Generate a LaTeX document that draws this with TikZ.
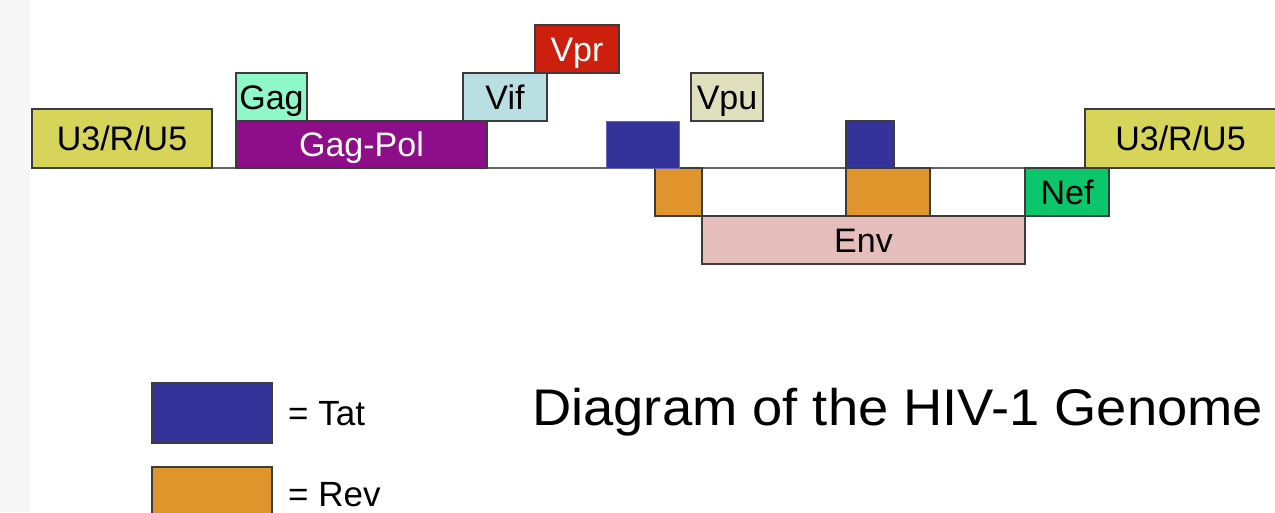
\documentclass[tikz,border=0pt]{standalone}
\usepackage{fontspec}
\setmainfont{Liberation Sans}
\definecolor{edge}{HTML}{3C3C3C}
\definecolor{ltr}{HTML}{D7D45A}
\definecolor{gagc}{HTML}{8FF8C8}
\definecolor{gagpol}{HTML}{8E0E8A}
\definecolor{vifc}{HTML}{BADFE3}
\definecolor{vprc}{HTML}{CC1F0E}
\definecolor{tatc}{HTML}{333399}
\definecolor{vpuc}{HTML}{E0DFBE}
\definecolor{revc}{HTML}{DF952B}
\definecolor{envc}{HTML}{E5BDBB}
\definecolor{nefc}{HTML}{0CC66C}
\definecolor{strip}{HTML}{F7F7F7}
\begin{document}
\begin{tikzpicture}[x=1pt,y=-1pt,
  gene/.style={draw=edge, line width=1.5pt, inner sep=0pt, outer sep=0pt,
    font=\fontsize{34}{40}\selectfont, text height=24pt, text depth=0pt},
  legtext/.style={anchor=west, inner sep=0pt, font=\fontsize{35}{40}\selectfont, text height=24pt, text depth=0pt},
  genomeline/.style={draw=edge!80, line width=1.5pt}]
\clip (0,0) rectangle (1275,512);
\useasboundingbox (0,0) rectangle (1275,512);
\fill[white] (0,0) rectangle (1275,512);
\fill[strip] (0,0) rectangle (30,512);
% genome line
\coordinate (lineL) at (32,168);
\coordinate (lineR) at (1280,168);
\draw[genomeline] (lineL) -- (lineR);
% genes
\node[gene, fill=ltr, minimum width=180pt, minimum height=59pt] (ltrL) at (122,138.5) {U3/R/U5};
\node[gene, fill=gagpol, text=white, minimum width=251pt, minimum height=47pt] (gp) at (361.5,144.5) {Gag-Pol};
\node[gene, fill=gagc, minimum width=71pt, minimum height=48pt] (gag) at (271.5,97) {Gag};
\node[gene, fill=vifc, minimum width=84pt, minimum height=48pt] (vif) at (505,97) {Vif};
\node[gene, fill=vprc, text=white, minimum width=84pt, minimum height=48pt] (vpr) at (577,49) {Vpr};
\node[gene, fill=vpuc, minimum width=72pt, minimum height=48pt] (vpu) at (727,97) {Vpu};
\node[gene, fill=revc, minimum width=47pt, minimum height=48pt] (rev1) at (678.5,192) {};
\node[gene, draw=tatc!75!white, line width=1pt, fill=tatc, minimum width=73pt, minimum height=47pt] (tat1) at (642.5,144.5) {};
\node[gene, fill=envc, minimum width=323pt, minimum height=48pt] (env) at (863.5,240) {Env};
\node[gene, fill=tatc, minimum width=48pt, minimum height=47pt] (tat2) at (870,144.5) {};
\node[gene, fill=revc, minimum width=84pt, minimum height=48pt] (rev2) at (888,192) {};
\node[gene, fill=nefc, minimum width=84pt, minimum height=48pt] (nef) at (1067,192) {Nef};
\node[gene, fill=ltr, minimum width=191pt, minimum height=59pt] (ltrR) at (1180.5,138.5) {U3/R/U5};
% legend
\node[gene, fill=tatc, minimum width=120pt, minimum height=60pt] (legtat) at (212,413) {};
\node[legtext] (legtattext) at (288,413) {= Tat};
\node[gene, fill=revc, minimum width=120pt, minimum height=60pt] (legrev) at (212,497) {};
\node[legtext] (legrevtext) at (288,494) {= Rev};
% title
\node[anchor=base west, inner sep=0pt, font=\fontsize{51.5}{60}\selectfont] (title) at (532,425) {\scalebox{1.055}[1]{Diagram of the HIV-1 Genome}};
\end{tikzpicture}
\end{document}
